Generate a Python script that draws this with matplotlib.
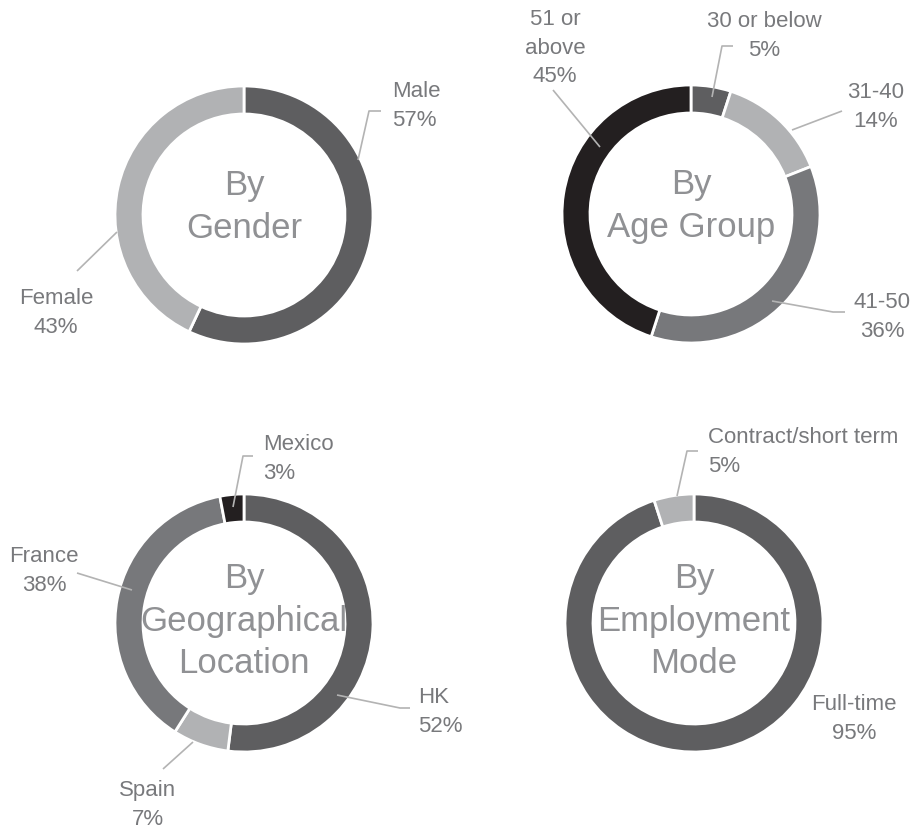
import matplotlib.pyplot as plt

# ── Data ─────────────────────────────────────────────────────────────────────
gender_labels = ["Male", "Female"]
gender_values = [57, 43]

age_labels = ["30 or below", "31-40", "41-50", "51 or\nabove"]
age_values = [5, 14, 36, 45]

geo_labels = ["HK", "Spain", "France", "Mexico"]
geo_values = [52, 7, 38, 3]

mode_labels = ["Full-time", "Contract/short term"]
mode_values = [95, 5]

# ── Style ────────────────────────────────────────────────────────────────────
W, H = 915, 829
DARK, LIGHT, MID, BLACK = "#5e5e60", "#b1b2b4", "#77787b", "#231f20"
TXT = "#78797c"
CTR = "#909194"
LINE = "#b3b3b3"
FONT = "Liberation Sans"
R, RING = 129, 28

# layout per chart: centre (px), title offset, colours, title, and per-slice
# label placement -> (text x, text y, ha, leader path in px)
charts = [
    dict(center=(244, 216), dy=9, values=gender_values, labels=gender_labels,
         colors=[DARK, LIGHT], title="By\nGender",
         place=[(392, 106, "left", [(358, 161), (369, 112), (381, 112)]),
                (56, 313, "center", [(117, 233), (77, 272)])]),
    dict(center=(691, 215), dy=9, values=age_values, labels=age_labels,
         colors=[DARK, LIGHT, MID, BLACK], title="By\nAge Group",
         place=[(764, 36, "center", [(712, 98), (722, 47), (733, 47)]),
                (876, 107, "center", [(792, 131), (842, 112)]),
                (882, 317, "center", [(772, 302), (833, 313), (845, 313)]),
                (555, 48, "center", [(600, 148), (553, 91)])]),
    dict(center=(244, 624), dy=3, values=geo_values, labels=geo_labels,
         colors=[DARK, LIGHT, MID, BLACK], title="By\nGeographical\nLocation",
         place=[(418, 712, "left", [(337, 696), (400, 709), (410, 709)]),
                (148, 805, "center", [(193, 743), (163, 770)]),
                (44, 571, "center", [(132, 591), (77, 574)]),
                (263, 459, "left", [(233, 508), (243, 457), (253, 457)])]),
    dict(center=(694, 624), dy=3, values=mode_values, labels=mode_labels,
         colors=[DARK, LIGHT], title="By\nEmployment\nMode",
         place=[(854, 719, "center", None),
                (708, 452, "left", [(677, 497), (687, 452), (698, 452)])]),
]

fig = plt.figure(figsize=(W / 100, H / 100), dpi=100)
ax = fig.add_axes([0, 0, 1, 1])

for ch in charts:
    cx, cy = ch["center"]
    ax.pie(ch["values"], colors=ch["colors"], center=(cx, H - cy), radius=R,
           startangle=90, counterclock=False,
           wedgeprops=dict(width=RING, edgecolor="white", linewidth=2))
    ax.text(cx, H - cy + ch["dy"], ch["title"], ha="center", va="center",
            fontsize=25, color=CTR, family=FONT, linespacing=1.38)
    for lab, val, (tx, ty, ha, path) in zip(ch["labels"], ch["values"], ch["place"]):
        ax.text(tx, H - ty, f"{lab}\n{val}%", ha=ha, va="center", multialignment=ha,
                fontsize=16, color=TXT, family=FONT, linespacing=1.45)
        if path:
            ax.plot([p[0] for p in path], [H - p[1] for p in path],
                    color=LINE, lw=1.2, solid_capstyle="butt")

ax.set_xlim(0, W)
ax.set_ylim(0, H)
ax.set_aspect("equal")
ax.axis("off")

fig.savefig("out.png", dpi=100, facecolor="white")
